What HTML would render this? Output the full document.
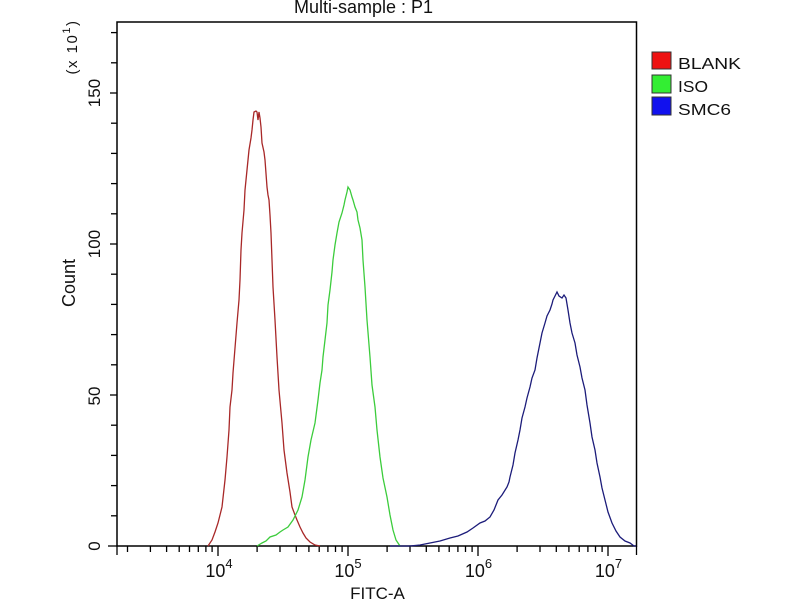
<!DOCTYPE html>
<html>
<head>
<meta charset="utf-8">
<style>
html,body{margin:0;padding:0;background:#fff;}
svg{display:block;}
text{font-family:"Liberation Sans",Arial,sans-serif;fill:#111;}
</style>
</head>
<body>
<svg width="800" height="600" viewBox="0 0 800 600" xmlns="http://www.w3.org/2000/svg">
<rect x="0" y="0" width="800" height="600" fill="#fff"/>

<!-- Title -->
<text x="363.5" y="13" font-size="18" text-anchor="middle">Multi-sample : P1</text>

<!-- Frame -->
<rect x="117" y="22" width="519.5" height="524" fill="none" stroke="#000" stroke-width="1.5"/>

<!-- Y ticks -->
<g stroke="#000" stroke-width="1.3">
<line x1="108" y1="546" x2="117" y2="546"/>
<line x1="111" y1="515.8" x2="117" y2="515.8"/>
<line x1="111" y1="485.6" x2="117" y2="485.6"/>
<line x1="111" y1="455.4" x2="117" y2="455.4"/>
<line x1="111" y1="425.2" x2="117" y2="425.2"/>
<line x1="110" y1="395" x2="117" y2="395"/>
<line x1="111" y1="364.8" x2="117" y2="364.8"/>
<line x1="111" y1="334.6" x2="117" y2="334.6"/>
<line x1="111" y1="304.4" x2="117" y2="304.4"/>
<line x1="111" y1="274.2" x2="117" y2="274.2"/>
<line x1="110" y1="244" x2="117" y2="244"/>
<line x1="111" y1="213.8" x2="117" y2="213.8"/>
<line x1="111" y1="183.6" x2="117" y2="183.6"/>
<line x1="111" y1="153.4" x2="117" y2="153.4"/>
<line x1="111" y1="123.2" x2="117" y2="123.2"/>
<line x1="110" y1="93" x2="117" y2="93"/>
<line x1="111" y1="62.8" x2="117" y2="62.8"/>
<line x1="111" y1="32.6" x2="117" y2="32.6"/>
</g>

<!-- Y labels -->
<text x="0" y="0" font-size="17" text-anchor="middle" transform="translate(100,546) rotate(-90)">0</text>
<text x="0" y="0" font-size="17" text-anchor="middle" transform="translate(100,396) rotate(-90)">50</text>
<text x="0" y="0" font-size="17" text-anchor="middle" transform="translate(100,244) rotate(-90)">100</text>
<text x="0" y="0" font-size="17" text-anchor="middle" transform="translate(100,93) rotate(-90)">150</text>
<text x="0" y="0" font-size="18" text-anchor="middle" transform="translate(75,283) rotate(-90)">Count</text>
<text x="0" y="0" font-size="15" text-anchor="middle" letter-spacing="1.5" transform="translate(77,47) rotate(-90)">(x 10<tspan font-size="11" dy="-7">1</tspan><tspan dy="7">)</tspan></text>

<!-- X ticks -->
<g stroke="#000" stroke-width="1.3">
<line x1="117" y1="546" x2="117" y2="555"/>
<line x1="127.5" y1="546" x2="127.5" y2="552"/>
<line x1="150.4" y1="546" x2="150.4" y2="552"/>
<line x1="166.6" y1="546" x2="166.6" y2="552"/>
<line x1="179.2" y1="546" x2="179.2" y2="552"/>
<line x1="189.5" y1="546" x2="189.5" y2="552"/>
<line x1="198.3" y1="546" x2="198.3" y2="552"/>
<line x1="205.9" y1="546" x2="205.9" y2="552"/>
<line x1="212.1" y1="546" x2="212.1" y2="552"/>
<line x1="218" y1="546" x2="218" y2="556"/>
<line x1="257.1" y1="546" x2="257.1" y2="552"/>
<line x1="280" y1="546" x2="280" y2="552"/>
<line x1="296.3" y1="546" x2="296.3" y2="552"/>
<line x1="308.9" y1="546" x2="308.9" y2="552"/>
<line x1="319.2" y1="546" x2="319.2" y2="552"/>
<line x1="327.9" y1="546" x2="327.9" y2="552"/>
<line x1="335.5" y1="546" x2="335.5" y2="552"/>
<line x1="342.1" y1="546" x2="342.1" y2="552"/>
<line x1="348" y1="546" x2="348" y2="556"/>
<line x1="387.1" y1="546" x2="387.1" y2="552"/>
<line x1="410" y1="546" x2="410" y2="552"/>
<line x1="426.3" y1="546" x2="426.3" y2="552"/>
<line x1="438.9" y1="546" x2="438.9" y2="552"/>
<line x1="449.2" y1="546" x2="449.2" y2="552"/>
<line x1="457.9" y1="546" x2="457.9" y2="552"/>
<line x1="465.5" y1="546" x2="465.5" y2="552"/>
<line x1="472.1" y1="546" x2="472.1" y2="552"/>
<line x1="478" y1="546" x2="478" y2="556"/>
<line x1="517.1" y1="546" x2="517.1" y2="552"/>
<line x1="540" y1="546" x2="540" y2="552"/>
<line x1="556.3" y1="546" x2="556.3" y2="552"/>
<line x1="568.9" y1="546" x2="568.9" y2="552"/>
<line x1="579.2" y1="546" x2="579.2" y2="552"/>
<line x1="587.9" y1="546" x2="587.9" y2="552"/>
<line x1="595.5" y1="546" x2="595.5" y2="552"/>
<line x1="602.1" y1="546" x2="602.1" y2="552"/>
<line x1="608" y1="546" x2="608" y2="556"/>
<line x1="636.5" y1="546" x2="636.5" y2="555"/>
</g>

<!-- X labels -->
<text x="219" y="577" font-size="18" text-anchor="middle">10<tspan font-size="13" dy="-9">4</tspan></text>
<text x="348" y="577" font-size="18" text-anchor="middle">10<tspan font-size="13" dy="-9">5</tspan></text>
<text x="478.5" y="577" font-size="18" text-anchor="middle">10<tspan font-size="13" dy="-9">6</tspan></text>
<text x="608.5" y="577" font-size="18" text-anchor="middle">10<tspan font-size="13" dy="-9">7</tspan></text>
<text x="377.5" y="599" font-size="17" text-anchor="middle">FITC-A</text>

<!-- Series -->
<polyline fill="none" stroke="#a82828" stroke-width="1.3" points="208,546 212,540 215,532 218,523 222,507 225,480 227,457 229,430 230,407 232,390 233,373 235,348 237,323 239,300 240,280 241,250 242,233 244,210 245,190 247,170 249,150 251,138 252,130 253,120 254,112 256,111 257,112 258,120 259,112 260,118 261,127 262,143 264,152 265,160 267,187 268,195 269,200 270,215 271,233 272,260 273,287 275,320 277,357 279,390 282,423 284,450 287,473 290,492 292,507 295,515 297,520 300,527 303,533 306,538 310,542 315,545 320,546"/>
<polyline fill="none" stroke="#3ccc3c" stroke-width="1.3" points="257,546 262,543 266,541 270,537 276,535 280,532 283,530 288,527 293,520 298,510 302,497 305,480 308,457 311,440 315,423 318,400 320,383 322,370 323,357 325,340 327,323 328,305 330,290 332,272 333,260 335,245 337,233 339,222 342,213 344,205 345,200 347,192 348,187 350,190 352,197 353,200 355,207 357,212 358,220 360,228 362,240 363,260 365,287 367,320 370,357 372,385 375,407 377,430 380,457 383,478 387,497 390,515 393,530 396,540 400,546"/>
<polyline fill="none" stroke="#1c1c7a" stroke-width="1.3" points="390,546 410,546 420,545 430,543 440,541 450,538 458,536 467,532 473,528 480,523 485,521 490,517 494,510 498,500 502,495 507,487 509,482 510,477 513,465 515,453 518,440 520,430 522,418 525,407 527,398 530,387 532,378 535,370 537,358 540,343 542,333 545,323 547,316 550,310 552,304 553,300 555,296 557,292 559,296 562,298 564,295 566,298 568,310 570,323 572,333 575,343 577,355 580,367 582,378 585,390 587,405 590,423 592,437 595,450 597,463 600,477 602,488 605,500 608,512 612,523 616,531 620,537 625,541 630,543 634,546 636,546"/>

<!-- Legend -->
<rect x="652" y="52" width="19" height="17" fill="#ee1111" stroke="#333" stroke-width="1"/>
<rect x="652" y="75" width="19" height="18" fill="#33ee33" stroke="#333" stroke-width="1"/>
<rect x="652" y="97" width="19" height="18" fill="#1111ee" stroke="#333" stroke-width="1"/>
<text x="678" y="69" font-size="16" textLength="63" lengthAdjust="spacingAndGlyphs">BLANK</text>
<text x="678" y="92" font-size="16" textLength="30" lengthAdjust="spacingAndGlyphs">ISO</text>
<text x="678" y="115" font-size="16" textLength="53" lengthAdjust="spacingAndGlyphs">SMC6</text>
</svg>
</body>
</html>
